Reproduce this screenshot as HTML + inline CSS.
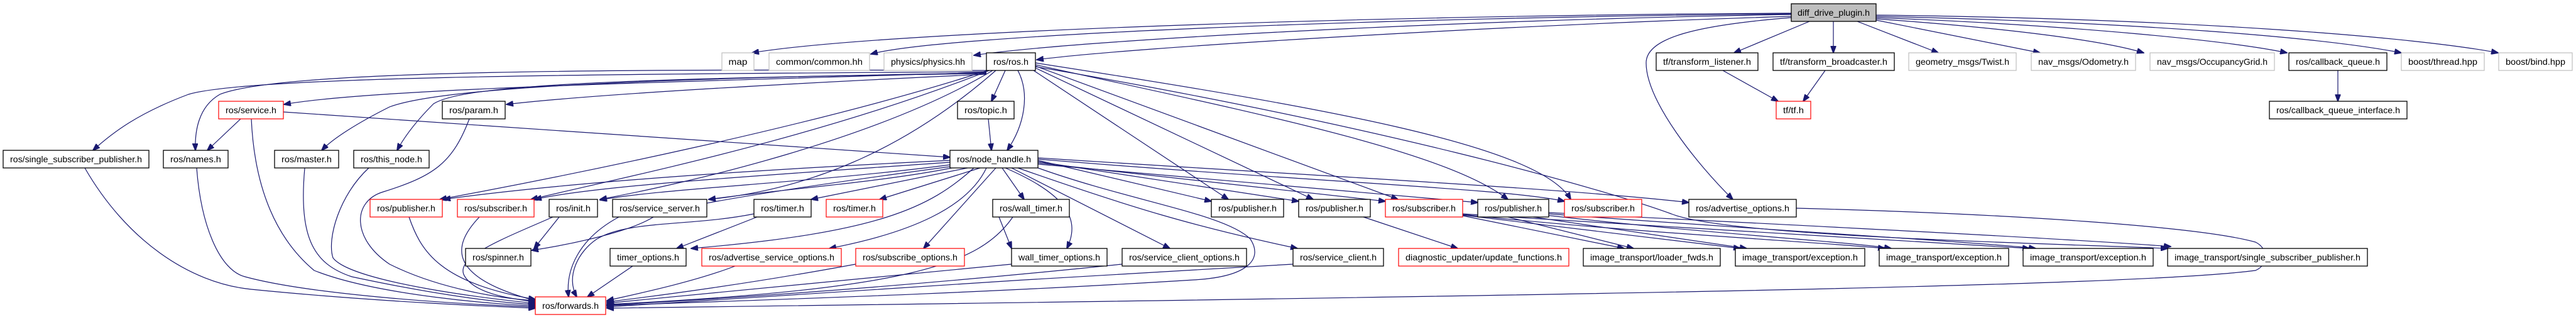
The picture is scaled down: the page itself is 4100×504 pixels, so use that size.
<!DOCTYPE html>
<html><head><meta charset="utf-8"><style>
html,body{margin:0;padding:0;background:#fff;}
svg{display:block;}
text{font-family:"Liberation Sans",sans-serif;font-size:14px;}
.e{fill:none;stroke:#191970;stroke-width:1.2;}
.b{fill:#fff;stroke:#000;stroke-width:1.3;}
.g{fill:#fff;stroke:#bfbfbf;stroke-width:1.2;}
.r{fill:#fff;stroke:#ff0000;stroke-width:1.2;}
.d{fill:#bfbfbf;stroke:#000;stroke-width:1.3;}
</style></head><body>
<svg width="4100" height="504" viewBox="0 0 4100 504" xmlns="http://www.w3.org/2000/svg">
<defs><marker id="a" markerWidth="12" markerHeight="9" refX="11" refY="4.5" orient="auto" markerUnits="userSpaceOnUse"><path d="M0,0 L12,4.5 L0,9 z" fill="#191970" stroke="#191970"/></marker></defs>
<g class="e" marker-end="url(#a)">
<path d="M2851,21 C2200,24 1400,50 1197,84"/>
<path d="M2851,22 C2200,28 1500,55 1386,86"/>
<path d="M2851,23 C2300,32 1700,65 1550,88"/>
<path d="M2851,26 C2400,40 1800,75 1650,95"/>
<path d="M2880,34 L2760,84"/>
<path d="M2918,34 L2918,84"/>
<path d="M2956,34 L3085,84"/>
<path d="M2986,32 L3247,84"/>
<path d="M2986,30 C3200,45 3350,65 3412,84"/>
<path d="M2986,28 C3300,40 3550,65 3640,84"/>
<path d="M2986,26 C3400,35 3700,60 3822,84"/>
<path d="M2986,24 C3500,30 3850,60 3976,84"/>
<path d="M2851,28 C2700,40 2620,60 2620,100 C2620,160 2700,260 2758,317"/>
<path d="M1570,114 C1000,118 400,120 300,150 C220,180 180,210 148,239"/>
<path d="M1570,112 C1000,110 450,110 350,150 C315,170 310,210 311,239"/>
<path d="M1570,115 C1100,130 600,140 452,166"/>
<path d="M1570,116 C1000,125 700,140 620,170 C570,195 530,220 512,239"/>
<path d="M1570,117 C900,125 730,140 690,165 C665,190 645,215 632,239"/>
<path d="M1570,118 C1100,140 900,155 806,166"/>
<path d="M1600,112 L1578,161"/>
<path d="M1573,189 L1578,239"/>
<path d="M1620,112 C1640,150 1630,200 1603,239"/>
<path d="M1572,112 C1300,200 900,280 700,317"/>
<path d="M1575,112 C1300,220 1000,280 845,317"/>
<path d="M1580,112 C1400,220 1100,290 955,317"/>
<path d="M1585,112 C1450,230 1300,300 1128,317"/>
<path d="M1645,112 L1955,317"/>
<path d="M1648,108 L2090,317"/>
<path d="M1648,105 L2225,317"/>
<path d="M1648,103 C2000,180 2300,240 2400,317"/>
<path d="M1648,100 C2100,170 2450,230 2500,317"/>
<path d="M1648,106 C2200,200 2550,300 2660,340 C2750,375 3200,385 3450,395"/>
<path d="M1512,255 C1200,270 900,290 706,317"/>
<path d="M1512,258 C1200,280 950,295 851,317"/>
<path d="M1512,262 C1300,290 1050,300 955,318"/>
<path d="M1515,267 C1400,290 1250,300 1128,317"/>
<path d="M1540,267 L1291,317"/>
<path d="M1560,267 L1400,317"/>
<path d="M1595,267 L1630,317"/>
<path d="M1512,265 C1250,300 1060,330 1040,345 C1000,370 900,390 846,398"/>
<path d="M1550,267 C1480,330 1400,370 1100,395"/>
<path d="M1570,267 C1540,330 1450,370 1320,395"/>
<path d="M1585,267 L1470,395"/>
<path d="M1600,267 C1700,310 1720,350 1698,395"/>
<path d="M1610,267 L1862,395"/>
<path d="M1620,267 C1800,330 1900,360 2065,395"/>
<path d="M1652,267 C1800,320 1950,340 1990,380 C2010,410 1990,440 1900,445 C1500,470 1100,480 966,486"/>
<path d="M1652,255 L1928,320"/>
<path d="M1652,257 L2067,320"/>
<path d="M1652,259 L2205,320"/>
<path d="M1652,261 L2352,322"/>
<path d="M1652,253 C2100,290 2400,300 2490,320"/>
<path d="M1652,251 C2100,280 2500,300 2688,322"/>
<path d="M2859,331 C3200,340 3500,360 3590,385 C3610,395 3612,420 3590,430 C3400,455 2500,470 966,490"/>
<path d="M135,267 C200,380 300,450 400,460 C600,480 800,488 852,490"/>
<path d="M313,267 C320,360 350,430 390,440 C500,470 750,485 852,488"/>
<path d="M400,189 C405,300 440,380 500,430 C600,470 800,485 852,486"/>
<path d="M383,189 L330,239"/>
<path d="M451,178 L1512,250"/>
<path d="M485,267 C475,380 500,420 560,440 C700,470 800,482 852,484"/>
<path d="M587,267 C540,310 520,380 530,410 C560,450 800,478 852,482"/>
<path d="M747,189 C720,260 690,280 610,305 C560,320 560,380 620,420 C700,460 800,475 852,478"/>
<path d="M651,345 C670,400 700,450 852,476"/>
<path d="M763,345 C720,390 710,440 852,478"/>
<path d="M890,345 L850,395"/>
<path d="M880,345 C800,380 720,410 740,440 C760,470 820,475 852,480"/>
<path d="M985,345 C920,380 900,430 905,472"/>
<path d="M1205,345 L1077,395"/>
<path d="M1200,340 C1100,360 1000,350 950,380 C920,400 900,440 918,472"/>
<path d="M1007,423 L935,472"/>
<path d="M1170,423 C1100,450 1000,470 966,478"/>
<path d="M1362,420 C1200,450 1050,470 966,480"/>
<path d="M1590,345 L1610,395"/>
<path d="M1612,345 C1560,420 1450,460 966,484"/>
<path d="M1610,420 C1300,450 1050,475 966,482"/>
<path d="M1786,420 C1400,460 1100,478 966,485"/>
<path d="M2058,420 C1700,440 1300,465 966,488"/>
<path d="M2170,345 L2320,395"/>
<path d="M2328,343 L2585,395"/>
<path d="M2328,342 L2770,395"/>
<path d="M2328,341 C2600,370 2900,385 3000,395"/>
<path d="M2328,340 C2700,365 3100,385 3230,395"/>
<path d="M2400,345 L2600,395"/>
<path d="M2440,345 L2780,395"/>
<path d="M2460,342 C2700,370 2950,385 3010,395"/>
<path d="M2465,340 C2800,365 3150,385 3240,395"/>
<path d="M2465,338 C2900,360 3300,380 3455,392"/>
<path d="M2742,112 L2830,161"/>
<path d="M2905,112 L2870,161"/>
<path d="M3721,112 L3721,161"/>
</g>
<g>
<rect class="d" x="2851" y="6" width="135" height="28"/><text x="2918.5" y="25" text-anchor="middle" textLength="115" lengthAdjust="spacingAndGlyphs">diff_drive_plugin.h</text>

<rect class="g" x="1149" y="84" width="51" height="28"/><text x="1174.5" y="103" text-anchor="middle" textLength="30" lengthAdjust="spacingAndGlyphs">map</text>
<rect class="g" x="1224" y="84" width="160" height="28"/><text x="1304" y="103" text-anchor="middle" textLength="138" lengthAdjust="spacingAndGlyphs">common/common.hh</text>
<rect class="g" x="1407" y="84" width="140" height="28"/><text x="1477" y="103" text-anchor="middle" textLength="118" lengthAdjust="spacingAndGlyphs">physics/physics.hh</text>
<rect class="b" x="1570" y="84" width="78" height="28"/><text x="1609" y="103" text-anchor="middle" textLength="56" lengthAdjust="spacingAndGlyphs">ros/ros.h</text>
<rect class="b" x="2636" y="84" width="162" height="28"/><text x="2717" y="103" text-anchor="middle" textLength="140" lengthAdjust="spacingAndGlyphs">tf/transform_listener.h</text>
<rect class="b" x="2822" y="84" width="193" height="28"/><text x="2918.5" y="103" text-anchor="middle" textLength="171" lengthAdjust="spacingAndGlyphs">tf/transform_broadcaster.h</text>
<rect class="g" x="3038" y="84" width="171" height="28"/><text x="3123.5" y="103" text-anchor="middle" textLength="149" lengthAdjust="spacingAndGlyphs">geometry_msgs/Twist.h</text>
<rect class="g" x="3233" y="84" width="166" height="28"/><text x="3316" y="103" text-anchor="middle" textLength="144" lengthAdjust="spacingAndGlyphs">nav_msgs/Odometry.h</text>
<rect class="g" x="3422" y="84" width="198" height="28"/><text x="3521" y="103" text-anchor="middle" textLength="176" lengthAdjust="spacingAndGlyphs">nav_msgs/OccupancyGrid.h</text>
<rect class="b" x="3643" y="84" width="156" height="28"/><text x="3721" y="103" text-anchor="middle" textLength="134" lengthAdjust="spacingAndGlyphs">ros/callback_queue.h</text>
<rect class="g" x="3822" y="84" width="132" height="28"/><text x="3888" y="103" text-anchor="middle" textLength="110" lengthAdjust="spacingAndGlyphs">boost/thread.hpp</text>
<rect class="g" x="3977" y="84" width="117" height="28"/><text x="4035.5" y="103" text-anchor="middle" textLength="95" lengthAdjust="spacingAndGlyphs">boost/bind.hpp</text>

<rect class="r" x="348" y="161" width="103" height="28"/><text x="399.5" y="180" text-anchor="middle" textLength="81" lengthAdjust="spacingAndGlyphs">ros/service.h</text>
<rect class="b" x="704" y="161" width="100" height="28"/><text x="754" y="180" text-anchor="middle" textLength="78" lengthAdjust="spacingAndGlyphs">ros/param.h</text>
<rect class="b" x="1524" y="161" width="90" height="28"/><text x="1569" y="180" text-anchor="middle" textLength="68" lengthAdjust="spacingAndGlyphs">ros/topic.h</text>
<rect class="r" x="2827" y="161" width="55" height="28"/><text x="2854.5" y="180" text-anchor="middle" textLength="33" lengthAdjust="spacingAndGlyphs">tf/tf.h</text>
<rect class="b" x="3612" y="161" width="219" height="28"/><text x="3721.5" y="180" text-anchor="middle" textLength="197" lengthAdjust="spacingAndGlyphs">ros/callback_queue_interface.h</text>

<rect class="b" x="5" y="239" width="232" height="28"/><text x="121" y="258" text-anchor="middle" textLength="210" lengthAdjust="spacingAndGlyphs">ros/single_subscriber_publisher.h</text>
<rect class="b" x="260" y="239" width="103" height="28"/><text x="311.5" y="258" text-anchor="middle" textLength="81" lengthAdjust="spacingAndGlyphs">ros/names.h</text>
<rect class="b" x="437" y="239" width="102" height="28"/><text x="488" y="258" text-anchor="middle" textLength="80" lengthAdjust="spacingAndGlyphs">ros/master.h</text>
<rect class="b" x="563" y="239" width="120" height="28"/><text x="623" y="258" text-anchor="middle" textLength="98" lengthAdjust="spacingAndGlyphs">ros/this_node.h</text>
<rect class="b" x="1512" y="239" width="140" height="28"/><text x="1582" y="258" text-anchor="middle" textLength="118" lengthAdjust="spacingAndGlyphs">ros/node_handle.h</text>

<rect class="r" x="589" y="317" width="115" height="28"/><text x="646.5" y="336" text-anchor="middle" textLength="93" lengthAdjust="spacingAndGlyphs">ros/publisher.h</text>
<rect class="r" x="728" y="317" width="122" height="28"/><text x="789" y="336" text-anchor="middle" textLength="100" lengthAdjust="spacingAndGlyphs">ros/subscriber.h</text>
<rect class="b" x="874" y="317" width="77" height="28"/><text x="912.5" y="336" text-anchor="middle" textLength="55" lengthAdjust="spacingAndGlyphs">ros/init.h</text>
<rect class="b" x="975" y="317" width="150" height="28"/><text x="1050" y="336" text-anchor="middle" textLength="128" lengthAdjust="spacingAndGlyphs">ros/service_server.h</text>
<rect class="b" x="1200" y="317" width="91" height="28"/><text x="1245.5" y="336" text-anchor="middle" textLength="69" lengthAdjust="spacingAndGlyphs">ros/timer.h</text>
<rect class="r" x="1315" y="317" width="90" height="28"/><text x="1360" y="336" text-anchor="middle" textLength="68" lengthAdjust="spacingAndGlyphs">ros/timer.h</text>
<rect class="b" x="1580" y="317" width="122" height="28"/><text x="1641" y="336" text-anchor="middle" textLength="100" lengthAdjust="spacingAndGlyphs">ros/wall_timer.h</text>
<rect class="b" x="1928" y="317" width="115" height="28"/><text x="1985.5" y="336" text-anchor="middle" textLength="93" lengthAdjust="spacingAndGlyphs">ros/publisher.h</text>
<rect class="b" x="2067" y="317" width="114" height="28"/><text x="2124" y="336" text-anchor="middle" textLength="92" lengthAdjust="spacingAndGlyphs">ros/publisher.h</text>
<rect class="r" x="2205" y="317" width="123" height="28"/><text x="2266.5" y="336" text-anchor="middle" textLength="101" lengthAdjust="spacingAndGlyphs">ros/subscriber.h</text>
<rect class="b" x="2352" y="317" width="113" height="28"/><text x="2408.5" y="336" text-anchor="middle" textLength="91" lengthAdjust="spacingAndGlyphs">ros/publisher.h</text>
<rect class="r" x="2490" y="317" width="123" height="28"/><text x="2551.5" y="336" text-anchor="middle" textLength="101" lengthAdjust="spacingAndGlyphs">ros/subscriber.h</text>
<rect class="b" x="2688" y="317" width="171" height="28"/><text x="2773.5" y="336" text-anchor="middle" textLength="149" lengthAdjust="spacingAndGlyphs">ros/advertise_options.h</text>

<rect class="b" x="741" y="395" width="104" height="28"/><text x="793" y="414" text-anchor="middle" textLength="82" lengthAdjust="spacingAndGlyphs">ros/spinner.h</text>
<rect class="b" x="971" y="395" width="121" height="28"/><text x="1031.5" y="414" text-anchor="middle" textLength="99" lengthAdjust="spacingAndGlyphs">timer_options.h</text>
<rect class="r" x="1117" y="395" width="222" height="28"/><text x="1228" y="414" text-anchor="middle" textLength="200" lengthAdjust="spacingAndGlyphs">ros/advertise_service_options.h</text>
<rect class="r" x="1362" y="395" width="173" height="28"/><text x="1448.5" y="414" text-anchor="middle" textLength="151" lengthAdjust="spacingAndGlyphs">ros/subscribe_options.h</text>
<rect class="b" x="1610" y="395" width="152" height="28"/><text x="1686" y="414" text-anchor="middle" textLength="130" lengthAdjust="spacingAndGlyphs">wall_timer_options.h</text>
<rect class="b" x="1786" y="395" width="198" height="28"/><text x="1885" y="414" text-anchor="middle" textLength="176" lengthAdjust="spacingAndGlyphs">ros/service_client_options.h</text>
<rect class="b" x="2058" y="395" width="144" height="28"/><text x="2130" y="414" text-anchor="middle" textLength="122" lengthAdjust="spacingAndGlyphs">ros/service_client.h</text>
<rect class="r" x="2226" y="395" width="271" height="28"/><text x="2361.5" y="414" text-anchor="middle" textLength="249" lengthAdjust="spacingAndGlyphs">diagnostic_updater/update_functions.h</text>
<rect class="b" x="2520" y="395" width="218" height="28"/><text x="2629" y="414" text-anchor="middle" textLength="196" lengthAdjust="spacingAndGlyphs">image_transport/loader_fwds.h</text>
<rect class="b" x="2762" y="395" width="206" height="28"/><text x="2865" y="414" text-anchor="middle" textLength="184" lengthAdjust="spacingAndGlyphs">image_transport/exception.h</text>
<rect class="b" x="2991" y="395" width="206" height="28"/><text x="3094" y="414" text-anchor="middle" textLength="184" lengthAdjust="spacingAndGlyphs">image_transport/exception.h</text>
<rect class="b" x="3220" y="395" width="207" height="28"/><text x="3323.5" y="414" text-anchor="middle" textLength="185" lengthAdjust="spacingAndGlyphs">image_transport/exception.h</text>
<rect class="b" x="3450" y="395" width="318" height="28"/><text x="3609" y="414" text-anchor="middle" textLength="296" lengthAdjust="spacingAndGlyphs">image_transport/single_subscriber_publisher.h</text>

<rect class="r" x="852" y="472" width="112" height="28"/><text x="908" y="491" text-anchor="middle" textLength="90" lengthAdjust="spacingAndGlyphs">ros/forwards.h</text>
</g>
</svg>
</body></html>
